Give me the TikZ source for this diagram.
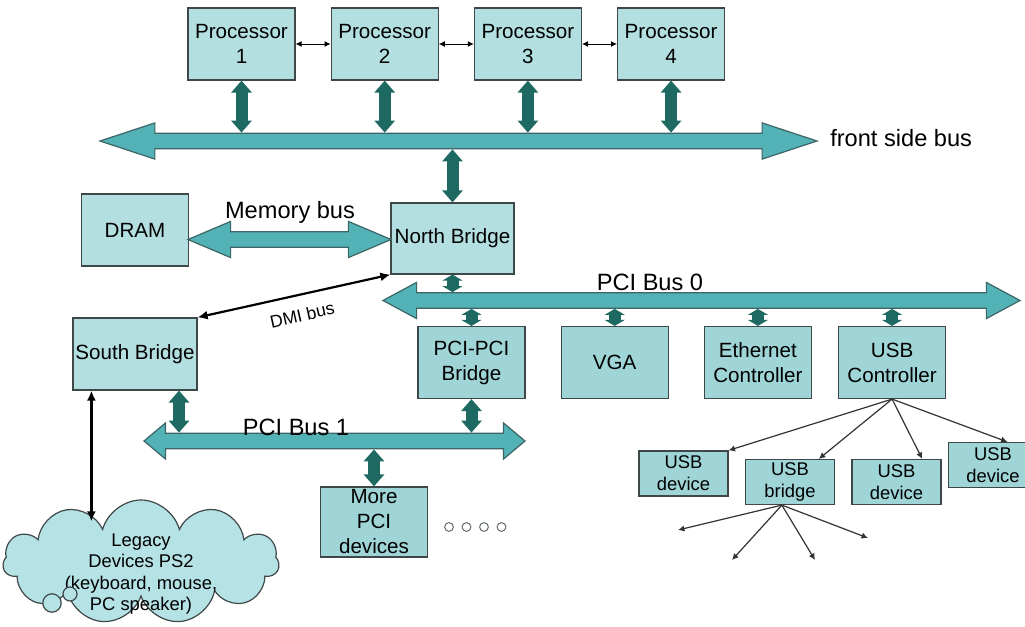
\documentclass[tikz,border=0pt]{standalone}
\usepackage{fontspec}
\setmainfont{Liberation Sans}
\usepackage{tikz}
\usetikzlibrary{positioning,arrows.meta,calc,shapes.arrows,shapes.symbols}
\definecolor{boxfill}{HTML}{B3DFE1}
\definecolor{pcifill}{HTML}{9FD5D7}
\definecolor{cloudfill}{HTML}{B5E2E5}
\definecolor{boxline}{HTML}{3F4848}
\definecolor{busfill}{HTML}{52B2B6}
\definecolor{busline}{HTML}{3D6466}
\definecolor{fatcol}{HTML}{1E6A62}
\definecolor{usbline}{HTML}{333333}

\begin{document}
\begin{tikzpicture}[x=0.5pt,y=-0.5pt,font=\fontsize{10.3}{12.5}\selectfont,
   blk/.style={draw=boxline,line width=0.6pt,fill=boxfill,align=center,
              minimum width=53.5pt,minimum height=36pt,inner sep=0pt},
   pcibox/.style={blk,fill=pcifill},
   usbbox/.style={blk,fill=pcifill,minimum width=44.5pt,minimum height=22.5pt,
              font=\fontsize{9.2}{11}\selectfont},
   bus/.style={double arrow,draw=busline,fill=busfill,line width=0.6pt,
              inner sep=0pt,inner ysep=3.6pt,minimum width=17.5pt,
              double arrow head extend=5.15pt},
   lbl/.style={font=\fontsize{11.8}{14}\selectfont,inner sep=0pt},
   fat/.style={draw=fatcol,line width=6pt,
              {Triangle[width=10pt,length=6pt]}-{Triangle[width=10pt,length=6pt]}},
   fatshort/.style={draw=fatcol,line width=6pt,
              {Triangle[width=10pt,length=3pt]}-{Triangle[width=10pt,length=3pt]}},
   thin/.style={line width=0.5pt,{Latex[length=3pt,width=3pt]}-{Latex[length=3pt,width=3pt]}},
   dmi/.style={line width=1.1pt,{Latex[length=5pt,width=4.5pt]}-{Latex[length=5pt,width=4.5pt]}},
   usbl/.style={draw=usbline,line width=0.6pt,-{Latex[length=3.2pt,width=3.2pt]}},
   node distance=17.5pt,
]
\path[fill=white,use as bounding box] (0,0) rectangle (1025,627);

% processors and front side bus
\node[blk] (p1) at (241.5,44) {Processor\\1};
\node[blk,right=of p1] (p2) {Processor\\2};
\node[blk,right=of p2] (p3) {Processor\\3};
\node[blk,right=of p3] (p4) {Processor\\4};
\draw[thin] (p1) -- (p2);
\draw[thin] (p2) -- (p3);
\draw[thin] (p3) -- (p4);

\node[bus,minimum height=358.5pt,double arrow tip angle=36.5] (fsb) at (458.5,141) {};
\node[lbl,anchor=west] (fsblbl) at ($(fsb.east)+(11,-3)$) {front side bus};
\foreach \p in {p1,p2,p3,p4}
   \draw[fat] (\p.south) -- (\p.south |- fsb.north);

% north bridge and memory
\node[blk,minimum width=61.5pt,minimum height=35.5pt] (nb) at (452.5,238.5) {North Bridge};
\node[blk] (dram) at (135,230) {DRAM};
\draw[fat] (nb.north) -- (nb.north |- fsb.south);
\node[bus,minimum height=101.5pt,double arrow tip angle=46] (membus) at (289.5,239.5) {};
\node[lbl] (memlbl) at (290,212) {Memory bus};

% south bridge
\node[blk,minimum width=62pt] (sb) at (135,354) {South Bridge};
\draw[dmi] (sb.north east) -- node[sloped,below=3pt,font=\fontsize{8.8}{10}\selectfont,pos=0.52] (dmilbl) {DMI bus} (nb.south west);

% PCI bus 0
\node[bus,minimum height=318.5pt,double arrow tip angle=56.6] (pci0) at (701.5,300.5) {};
\node[lbl] (pci0lbl) at (650,282) {PCI Bus 0};
\draw[fatshort] (nb.south) -- (nb.south |- pci0.north);
\node[pcibox] (ppb) at (471.5,362.5) {PCI-PCI\\Bridge};
\node[pcibox,right=of ppb] (vga) {VGA};
\node[pcibox,right=of vga] (eth) {Ethernet\\Controller};
\node[pcibox,right=13pt of eth] (usbc) {USB\\Controller};
\foreach \n in {ppb,vga,eth,usbc}
   \draw[fatshort] (\n.north) -- (\n.north |- pci0.south);

% PCI bus 1
\node[bus,minimum height=190.5pt,minimum width=16pt,double arrow tip angle=80] (pci1) at (334.5,441) {};
\node[lbl] (pci1lbl) at (296,427) {PCI Bus 1};
\coordinate (sbpci) at ($(sb.south)+(44,0)$);
\draw[fat] (sbpci) -- (sbpci |- pci1.north);
\draw[fat] (ppb.south) -- (ppb.south |- pci1.north);
\node[pcibox,minimum height=35pt] (more) at (374,522) {More\\PCI\\devices};
\draw[fat] (more.north) -- (more.north |- pci1.south);
\foreach \i in {0,...,3}
   \draw[boxline!80,line width=0.5pt] (449+17.5*\i,527) circle[radius=2.2pt];

% legacy devices
\node[cloud,cloud puffs=11,aspect=2.2,draw=boxline,line width=0.6pt,fill=cloudfill,
      minimum width=138pt,minimum height=62pt,inner sep=0pt] (legacy) at (141,562) {};
\node[align=center,font=\fontsize{9.2}{10.6}\selectfont] (legacytxt) at ($(legacy.center)+(0,12)$)
      {Legacy\\Devices PS2\\(keyboard, mouse,\\PC speaker)};
\draw[boxline,line width=0.6pt,fill=cloudfill] (52,603) circle[radius=4.6pt];
\draw[boxline,line width=0.6pt,fill=cloudfill] (70,594) circle[radius=3.5pt];
\coordinate (sbleg) at ($(sb.south west)+(19,0)$);
\draw[dmi] (sbleg) -- ($(sbleg |- legacy.north)+(0,22)$);

% USB tree
\node[usbbox] (usb1) at (683.5,473.5) {USB\\device};
\node[usbbox] (usbbr) at (790,482) {USB\\bridge};
\node[usbbox] (usb2) at (896.5,482) {USB\\device};
\node[usbbox] (usb3) at (993,465) {USB\\device};
\draw[usbl] (usbc.south) -- (usb1.north east);
\draw[usbl] (usbc.south) -- ($(usbbr.north)!0.64!(usbbr.north east)$);
\draw[usbl] (usbc.south) -- ($(usb2.north)!0.57!(usb2.north east)$);
\draw[usbl] (usbc.south) -- ($(usb3.north)!0.32!(usb3.north east)$);
\coordinate (brout) at ($(usbbr.south west)!0.41!(usbbr.south east)$);
\coordinate (d1) at (678,530);
\coordinate (d2) at (732,560);
\coordinate (d3) at (815,560);
\coordinate (d4) at (868,538);
\foreach \d in {d1,d2,d3,d4}
   \draw[usbl] (brout) -- (\d);
\end{tikzpicture}
\end{document}
